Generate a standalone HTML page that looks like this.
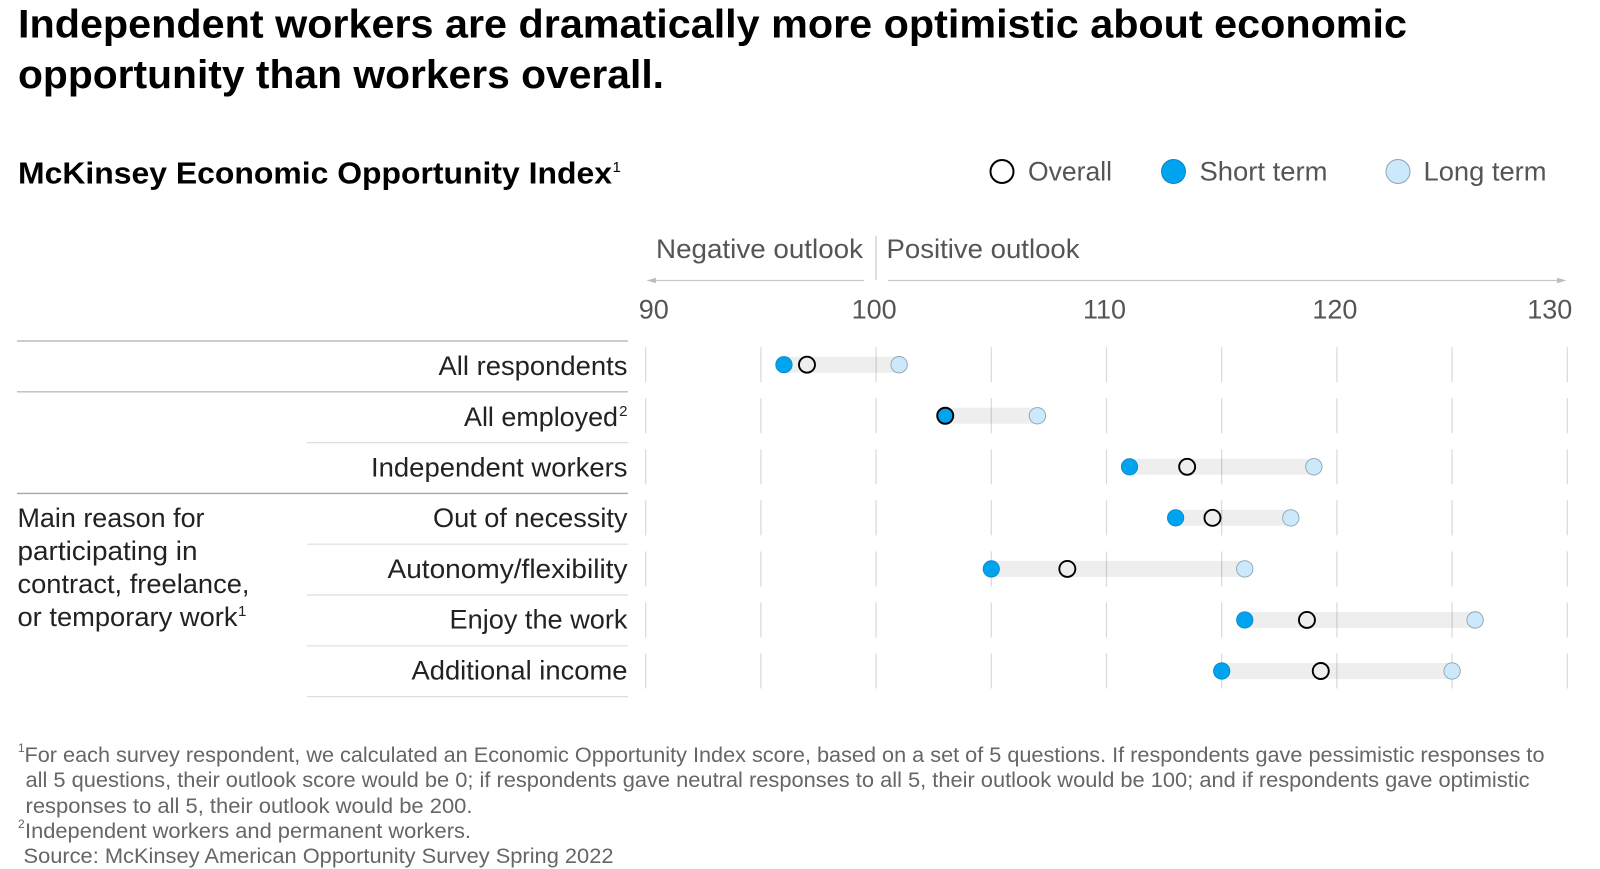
<!DOCTYPE html>
<html lang="en">
<head>
<meta charset="utf-8">
<title>McKinsey Economic Opportunity Index</title>
<style>
html,body{margin:0;padding:0;background:#fff;width:1600px;height:869px;overflow:hidden}
svg{display:block;font-family:"Liberation Sans",Arial,sans-serif}
</style>
</head>
<body>
<svg id="chart" width="1600" height="869" viewBox="0 0 1600 869" xmlns="http://www.w3.org/2000/svg">
  <g font-weight="bold" font-size="40" fill="#000">
    <text x="18" y="37.5" textLength="1389" lengthAdjust="spacingAndGlyphs">Independent workers are dramatically more optimistic about economic</text>
    <text x="18" y="88" textLength="646" lengthAdjust="spacingAndGlyphs">opportunity than workers overall.</text>
  </g>
  <text x="18" y="183.5" font-weight="bold" font-size="31" fill="#000" textLength="594" lengthAdjust="spacingAndGlyphs">McKinsey Economic Opportunity Index</text>
  <text x="612.5" y="172" font-size="15" fill="#000">1</text>

  <g font-size="27" fill="#555">
    <circle cx="1002" cy="171.5" r="11.5" fill="#fff" stroke="#000" stroke-width="2"/>
    <text x="1028" y="180.5" textLength="84" lengthAdjust="spacingAndGlyphs">Overall</text>
    <circle cx="1173.5" cy="171.5" r="12" fill="#00a3ee" stroke="#0a86c4" stroke-width="1"/>
    <text x="1199.5" y="180.5" textLength="128" lengthAdjust="spacingAndGlyphs">Short term</text>
    <circle cx="1398" cy="171.5" r="12" fill="#cbe9fb" stroke="#8fa3ae" stroke-width="1"/>
    <text x="1423.5" y="180.5" textLength="123" lengthAdjust="spacingAndGlyphs">Long term</text>
  </g>

  <g>
    <text x="656" y="258" font-size="27" fill="#555" textLength="207" lengthAdjust="spacingAndGlyphs">Negative outlook</text>
    <text x="886.5" y="258" font-size="27" fill="#555" textLength="193" lengthAdjust="spacingAndGlyphs">Positive outlook</text>
    <line x1="876" y1="236" x2="876" y2="280" stroke="#c8c8c8" stroke-width="1.2"/>
    <line x1="650" y1="280.5" x2="864" y2="280.5" stroke="#c8c8c8" stroke-width="1.3"/>
    <polygon points="646.5,280.5 656,277.8 656,283.2" fill="#bdbdbd"/>
    <line x1="888" y1="280.5" x2="1560" y2="280.5" stroke="#c8c8c8" stroke-width="1.3"/>
    <polygon points="1566.5,280.5 1557,277.8 1557,283.2" fill="#bdbdbd"/>
  </g>

  <g font-size="27" fill="#222">
    <text x="17.5" y="527" textLength="187" lengthAdjust="spacingAndGlyphs">Main reason for</text>
    <text x="17.5" y="560" textLength="180" lengthAdjust="spacingAndGlyphs">participating in</text>
    <text x="17.5" y="593" textLength="232" lengthAdjust="spacingAndGlyphs">contract, freelance,</text>
    <text x="17.5" y="626" textLength="220" lengthAdjust="spacingAndGlyphs">or temporary work</text>
    <text x="238" y="616" font-size="15">1</text>
  </g>

  <g id="rules"></g>
  <g id="xaxis"></g>
  <g id="grid"></g>

  <g font-size="27" fill="#222" text-anchor="end">
    <text x="627.5" y="375" textLength="189" lengthAdjust="spacingAndGlyphs">All respondents</text>
    <text x="618" y="425.8" textLength="154" lengthAdjust="spacingAndGlyphs">All employed</text>
    <text x="627.5" y="416" font-size="15">2</text>
    <text x="627.5" y="476.5" textLength="256.5" lengthAdjust="spacingAndGlyphs">Independent workers</text>
    <text x="627.5" y="527" textLength="194.5" lengthAdjust="spacingAndGlyphs">Out of necessity</text>
    <text x="627.5" y="578" textLength="240" lengthAdjust="spacingAndGlyphs">Autonomy/flexibility</text>
    <text x="627.5" y="628.7" textLength="178" lengthAdjust="spacingAndGlyphs">Enjoy the work</text>
    <text x="627.5" y="679.5" textLength="216" lengthAdjust="spacingAndGlyphs">Additional income</text>
  </g>

  <g id="marks"></g>

  <g font-size="21" fill="#666">
    <text x="18" y="752" font-size="12">1</text>
    <text x="24.5" y="762" textLength="1520" lengthAdjust="spacingAndGlyphs">For each survey respondent, we calculated an Economic Opportunity Index score, based on a set of 5 questions. If respondents gave pessimistic responses to</text>
    <text x="25.5" y="787" textLength="1504" lengthAdjust="spacingAndGlyphs">all 5 questions, their outlook score would be 0; if respondents gave neutral responses to all 5, their outlook would be 100; and if respondents gave optimistic</text>
    <text x="25.5" y="813" textLength="447" lengthAdjust="spacingAndGlyphs">responses to all 5, their outlook would be 200.</text>
    <text x="18" y="828" font-size="12">2</text>
    <text x="25" y="838" textLength="446" lengthAdjust="spacingAndGlyphs">Independent workers and permanent workers.</text>
    <text x="23.5" y="863" textLength="590" lengthAdjust="spacingAndGlyphs">Source: McKinsey American Opportunity Survey Spring 2022</text>
  </g>
</svg>
<script>
const categories = ['All respondents','All employed','Independent workers','Out of necessity','Autonomy/flexibility','Enjoy the work','Additional income'];
const shortTerm = [96, 103, 111, 113, 105, 116, 115];
const overall = [97, 103, 113.5, 114.6, 108.3, 118.7, 119.3];
const longTerm = [101, 107, 119, 118, 116, 126, 125];
const tickLabels = [90, 100, 110, 120, 130];
const gridValues = [90, 95, 100, 105, 110, 115, 120, 125, 130];

const NS = 'http://www.w3.org/2000/svg';
const axisMin = gridValues[0];
const axisMax = gridValues[gridValues.length - 1];
function x(v) { return 645.7 + (v - axisMin) / (axisMax - axisMin) * 921.6; }
function y(i) { return 364.7 + i * 51.05; }
function slug(s) { return s.toLowerCase().replace(/[^a-z0-9]+/g, '-'); }
function make(tag, parent, attrs) {
  const el = document.createElementNS(NS, tag);
  for (const k in attrs) el.setAttribute(k, attrs[k]);
  parent.appendChild(el);
  return el;
}

/* horizontal table rules */
const rulesG = document.getElementById('rules');
categories.concat(['end']).forEach(function (c, i) {
  const top = 341 + i * 50.8;
  const full = i === 0 || i === 1 || i === 3;
  const rule = make('line', rulesG, {
    x1: full ? 17 : 307, x2: 628, y1: top, y2: top,
    stroke: i === 3 ? '#a8a8a8' : (full ? '#bcbcbc' : '#dedede'),
    'stroke-width': full ? 1.4 : 1.2
  });
  
  
});

/* tick labels */
const axisG = document.getElementById('xaxis');
tickLabels.forEach(function (v, i) {
  const last = tickLabels.length - 1;
  const t = make('text', axisG, {
    x: i === 0 ? x(v) - 7 : (i === last ? x(v) + 5 : x(v) - 2),
    y: 318.5,
    'text-anchor': i === 0 ? 'start' : (i === last ? 'end' : 'middle'),
    'font-size': 27, fill: '#555'
  });
  t.textContent = v;
  
  
});

/* gridline segments per row */
const gridG = document.getElementById('grid');
gridValues.forEach(function (v) {
  categories.forEach(function (c, i) {
    const g = make('line', gridG, {
      x1: x(v), x2: x(v), y1: y(i) - 17.5, y2: y(i) + 17.5,
      stroke: '#d8d8d8', 'stroke-width': 1.2
    });
    
    
  });
});

/* dumbbell marks */
const marksG = document.getElementById('marks');
categories.forEach(function (c, i) {
  const g = make('g', marksG, {});
  
  
  const lo = Math.min(shortTerm[i], overall[i], longTerm[i]);
  const hi = Math.max(shortTerm[i], overall[i], longTerm[i]);
  const bar = make('rect', g, {
    x: x(lo), y: y(i) - 8, width: x(hi) - x(lo), height: 16, fill: 'rgba(0,0,0,0.065)'
  });
  
  
  const sDot = make('circle', g, {
    cx: x(shortTerm[i]), cy: y(i), r: 8.2, fill: '#00a3ee', stroke: '#0a86c4', 'stroke-width': 0.8
  });
  
  
  const lDot = make('circle', g, {
    cx: x(longTerm[i]), cy: y(i), r: 8.2, fill: '#cbe9fb', stroke: '#8fa3ae', 'stroke-width': 0.9
  });
  
  
  const oDot = make('circle', g, {
    cx: x(overall[i]), cy: y(i), r: 8, fill: 'none', stroke: '#000', 'stroke-width': 1.9
  });
  
  
});
</script>
</body>
</html>
